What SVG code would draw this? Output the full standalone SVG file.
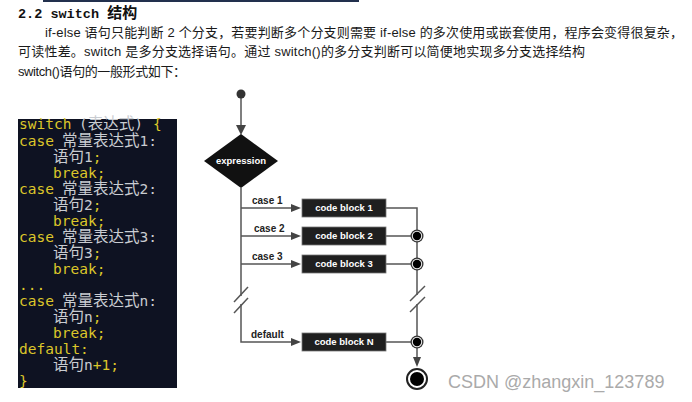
<svg xmlns="http://www.w3.org/2000/svg" width="692" height="402" viewBox="0 0 692 402">
<style>
.para{font-family:"Liberation Sans","Noto Sans CJK SC",sans-serif;font-size:13px;fill:#1a1a1a}
.code{font-family:"DejaVu Sans Mono","Noto Sans CJK SC",monospace;font-size:14.5px}
.cj{font-size:15.5px}
.y{fill:#dcc62a}
.g{fill:#c9ccd1}
.ln{stroke:#555;stroke-width:1.5;fill:none}
.ah{fill:#444}
.blk{fill:#1f1f1f;stroke:#777;stroke-width:0.8}
.bt{font-family:"Liberation Sans",Arial,sans-serif;font-size:9.5px;font-weight:bold;fill:#fff;text-anchor:middle}
.lb{font-family:"Liberation Sans",Arial,sans-serif;font-size:10px;font-weight:bold;fill:#222}
</style>
<rect width="692" height="402" fill="#fff"/>
<rect x="43" y="0" width="316" height="2" fill="#22304d"/>
<text x="18" y="18" font-weight="bold" fill="#111"><tspan font-family="Liberation Mono,monospace" font-size="13.5px">2.2 switch </tspan><tspan font-family="Noto Sans CJK SC,sans-serif" font-size="15px">结构</tspan></text>
<text class="para" x="45" y="37" textLength="638" lengthAdjust="spacing">if-else 语句只能判断 2 个分支，若要判断多个分支则需要 if-else 的多次使用或嵌套使用，程序会变得很复杂，</text>
<text class="para" x="18" y="56" textLength="567" lengthAdjust="spacing">可读性差。switch 是多分支选择语句。通过 switch()的多分支判断可以简便地实现多分支选择结构</text>
<text class="para" x="18" y="76" textLength="168" lengthAdjust="spacing">switch()语句的一般形式如下：</text>

<g id="code">
<rect x="18" y="119" width="159" height="269" fill="#0e1222"/>
<g class="code">
<text x="19" y="129" class="y">switch</text>
<text x="79" y="129" class="g">(<tspan class="cj">表达式</tspan>)</text>
<text x="153" y="129" class="y">{</text>
<text x="19" y="146"><tspan class="y">case</tspan><tspan class="g cj" x="62">常量表达式</tspan><tspan class="g">1:</tspan></text>
<text x="53" y="162"><tspan class="g cj">语句</tspan><tspan class="g">1</tspan><tspan class="y">;</tspan></text>
<text x="53" y="178" class="y">break;</text>
<text x="19" y="194"><tspan class="y">case</tspan><tspan class="g cj" x="62">常量表达式</tspan><tspan class="g">2:</tspan></text>
<text x="53" y="210"><tspan class="g cj">语句</tspan><tspan class="g">2</tspan><tspan class="y">;</tspan></text>
<text x="53" y="226" class="y">break;</text>
<text x="19" y="242"><tspan class="y">case</tspan><tspan class="g cj" x="62">常量表达式</tspan><tspan class="g">3:</tspan></text>
<text x="53" y="258"><tspan class="g cj">语句</tspan><tspan class="g">3</tspan><tspan class="y">;</tspan></text>
<text x="53" y="274" class="y">break;</text>
<text x="19" y="290" class="y">...</text>
<text x="19" y="306"><tspan class="y">case</tspan><tspan class="g cj" x="62">常量表达式</tspan><tspan class="g">n:</tspan></text>
<text x="53" y="322"><tspan class="g cj">语句</tspan><tspan class="g">n</tspan><tspan class="y">;</tspan></text>
<text x="53" y="338" class="y">break;</text>
<text x="19" y="354" class="y">default:</text>
<text x="53" y="370"><tspan class="g cj">语句</tspan><tspan class="g">n</tspan><tspan class="y">+1;</tspan></text>
<text x="19" y="386" class="y">}</text>
</g>
</g>

<g id="connectors">
<line class="ln" x1="241" y1="97" x2="241" y2="126"/>
<polygon class="ah" points="236,125 246,125 241,135"/>
<polyline class="ln" points="241,188 241,296"/>
<polyline class="ln" points="241,304 241,342 292,342"/>
<line class="ln" x1="248" y1="287" x2="234" y2="302"/>
<line class="ln" x1="248" y1="298" x2="234" y2="313"/>
<line class="ln" x1="241" y1="208" x2="292" y2="208"/>
<line class="ln" x1="241" y1="236" x2="292" y2="236"/>
<line class="ln" x1="241" y1="264" x2="292" y2="264"/>
<polygon class="ah" points="291,204 301,208 291,212"/>
<polygon class="ah" points="291,232 301,236 291,240"/>
<polygon class="ah" points="291,260 301,264 291,268"/>
<polygon class="ah" points="291,338 301,342 291,346"/>
<polyline class="ln" points="386,208 417,208 417,295"/>
<line class="ln" x1="386" y1="236" x2="417" y2="236"/>
<line class="ln" x1="386" y1="264" x2="417" y2="264"/>
<line class="ln" x1="386" y1="342" x2="417" y2="342"/>
<polyline class="ln" points="417,304 417,358"/>
<line class="ln" x1="425" y1="286" x2="410" y2="301"/>
<line class="ln" x1="425" y1="297" x2="410" y2="312"/>
<polygon class="ah" points="413,357 421,357 417,367"/>
</g>

<g id="start"><circle cx="241" cy="94" r="4.5" fill="#333"/></g>
<g id="expression">
<polygon points="241,134 278,161 241,188 204,161" fill="#111"/>
<text x="241" y="164" class="bt" font-size="8.5px">expression</text>
</g>
<g id="label-case1"><text class="lb" x="252" y="204">case 1</text></g>
<g id="label-case2"><text class="lb" x="254" y="232">case 2</text></g>
<g id="label-case3"><text class="lb" x="252" y="260">case 3</text></g>
<g id="label-default"><text class="lb" x="251" y="338">default</text></g>
<g id="block1"><rect class="blk" x="302" y="199" width="84" height="18"/><text class="bt" x="344" y="211">code block 1</text></g>
<g id="block2"><rect class="blk" x="302" y="227" width="84" height="18"/><text class="bt" x="344" y="239">code block 2</text></g>
<g id="block3"><rect class="blk" x="302" y="255" width="84" height="18"/><text class="bt" x="344" y="267">code block 3</text></g>
<g id="blockN"><rect class="blk" x="302" y="333" width="84" height="18"/><text class="bt" x="344" y="345">code block N</text></g>
<g id="join2"><circle cx="417" cy="236" r="6.5" fill="#333"/><circle cx="417" cy="236" r="5.2" fill="#eee"/><circle cx="417" cy="236" r="4.2" fill="#000"/></g>
<g id="join3"><circle cx="417" cy="264" r="6.5" fill="#333"/><circle cx="417" cy="264" r="5.2" fill="#eee"/><circle cx="417" cy="264" r="4.2" fill="#000"/></g>
<g id="joinN"><circle cx="417" cy="342" r="6.5" fill="#333"/><circle cx="417" cy="342" r="5.2" fill="#eee"/><circle cx="417" cy="342" r="4.2" fill="#000"/></g>
<g id="end"><circle cx="417" cy="379" r="10" fill="#fff" stroke="#222" stroke-width="2"/><circle cx="417" cy="379" r="7" fill="#000"/></g>
<text x="448" y="388" font-family="Liberation Sans,Arial,sans-serif" font-size="18px" fill="#aaa">CSDN @zhangxin_123789</text>
</svg>
